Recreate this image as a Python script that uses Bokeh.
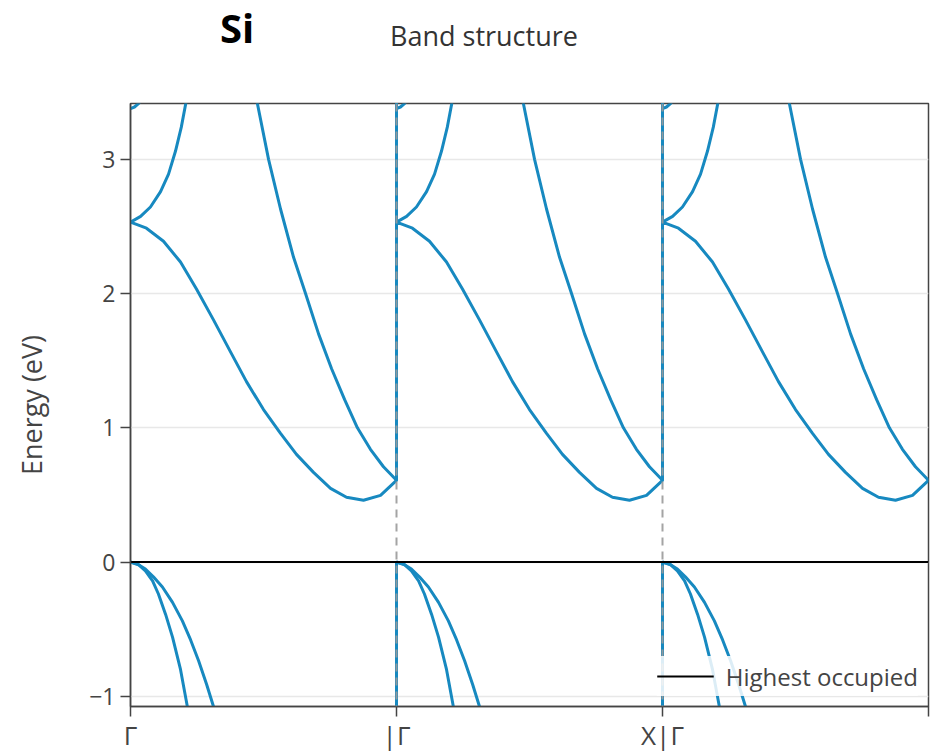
import numpy as np
from bokeh.plotting import figure
from bokeh.layouts import column
from bokeh.models import Range1d, FixedTicker, Legend, LegendItem, Span, Div
from bokeh.embed import file_html
from bokeh.resources import INLINE

# ---- data (fractional k along each Γ→X segment, energies in eV) ----
segment_starts = [0, 1, 2]
x_ticks = [0, 1, 2, 3]
x_tick_labels = ["Γ", "|Γ", "X|Γ", ""]
y_ticks = [-1, 0, 1, 2, 3]
highest_occupied = 0.0
material = "Si"
chart_title = "Band structure"

k_vb1 = [0.0, 0.030, 0.056, 0.083, 0.105, 0.132, 0.158, 0.188, 0.214, 0.244, 0.5, 1.0]
e_vb1 = [0.0, -0.020, -0.065, -0.140, -0.238, -0.390, -0.559, -0.800, -1.079, -1.38, -2.3, -2.9]

k_vb2 = [0.0, 0.026, 0.056, 0.086, 0.120, 0.158, 0.195, 0.226, 0.256, 0.286, 0.312, 0.346, 0.6, 1.0]
e_vb2 = [0.0, -0.015, -0.052, -0.110, -0.186, -0.300, -0.438, -0.580, -0.735, -0.910, -1.076, -1.28, -2.3, -2.9]

k_cb1 = [0.0, 0.06, 0.124, 0.188, 0.248, 0.312, 0.376, 0.436, 0.5, 0.564,
         0.624, 0.688, 0.752, 0.812, 0.876, 0.94, 1.0]
e_cb1 = [2.532, 2.487, 2.390, 2.235, 2.034, 1.804, 1.566, 1.344, 1.136, 0.958,
         0.802, 0.668, 0.549, 0.483, 0.460, 0.497, 0.609]

k_cb2 = [0.0, 0.3, 0.45, 0.477, 0.519, 0.564, 0.613, 0.658, 0.707, 0.756,
         0.805, 0.853, 0.902, 0.951, 1.0]
e_cb2 = [4.1, 3.9, 3.6, 3.416, 3.0, 2.63, 2.27, 2.0, 1.70, 1.44,
         1.21, 1.0, 0.84, 0.71, 0.609]

k_cb3 = [0.0, 0.038, 0.075, 0.113, 0.143, 0.169, 0.191, 0.211, 0.25, 0.6, 1.0]
e_cb3 = [2.532, 2.575, 2.645, 2.76, 2.89, 3.06, 3.24, 3.45, 3.75, 4.2, 4.0]

k_cb4 = [0.0, 0.015, 0.03, 0.06, 0.5, 1.0]
e_cb4 = [3.378, 3.39, 3.415, 3.5, 4.5, 4.2]

bands = [(k_vb1, e_vb1), (k_vb2, e_vb2), (k_cb1, e_cb1),
         (k_cb2, e_cb2), (k_cb3, e_cb3), (k_cb4, e_cb4)]

BLUE = "#1789c0"
FONT = "Open Sans"
GREY = "#444444"

HEADER_H = 60

p = figure(width=930, height=755 - HEADER_H, output_backend="svg",
           toolbar_location=None,
           x_range=Range1d(0, 3), y_range=Range1d(-1.076, 3.416),
           min_border_left=130, min_border_right=2,
           min_border_top=103 - HEADER_H, min_border_bottom=47)

for k, e in bands:
    xs = np.concatenate([np.array(k) + s for s in segment_starts])
    ys = np.concatenate([np.array(e) for s in segment_starts])
    p.line(xs, ys, line_color=BLUE, line_width=3)

for b in x_ticks[1:-1]:
    p.add_layout(Span(location=b, dimension="height", line_color="#9a9a9a",
                      line_width=2, line_dash="8 6", line_alpha=0.9))

ho = p.line([x_ticks[0], x_ticks[-1]], [highest_occupied, highest_occupied],
            line_color="black", line_width=2)

legend = Legend(items=[LegendItem(label="Highest occupied", renderers=[ho])],
                location="bottom_right", margin=10, padding=10,
                glyph_width=57, glyph_height=40, label_height=40,
                label_standoff=12,
                background_fill_color="white", background_fill_alpha=0.85,
                border_line_color=None, label_text_font=FONT,
                label_text_font_size="24px", label_text_color=GREY)
p.add_layout(legend, "center")

# axes
p.xaxis.ticker = FixedTicker(ticks=x_ticks)
p.xaxis.major_label_overrides = {t: l for t, l in zip(x_ticks, x_tick_labels)}
p.xaxis.major_label_text_font = FONT
p.xaxis.major_label_text_font_size = "26px"
p.xaxis.major_label_text_color = GREY
p.xaxis.major_label_standoff = 0
p.xaxis.major_tick_out = 10
p.xaxis.major_tick_in = 0
p.xaxis.minor_tick_line_color = None

p.yaxis.ticker = FixedTicker(ticks=y_ticks)
p.yaxis.major_label_overrides = {t: (str(t) if t >= 0 else "\u2212" + str(-t)) for t in y_ticks}
p.yaxis.major_label_text_font = FONT
p.yaxis.major_label_text_font_size = "23px"
p.yaxis.major_label_text_color = GREY
p.yaxis.major_label_standoff = 5
p.yaxis.major_tick_out = 10
p.yaxis.major_tick_in = 0
p.yaxis.minor_tick_line_color = None
p.yaxis.axis_label = "Energy (eV)"
p.yaxis.axis_label_text_font = FONT
p.yaxis.axis_label_text_font_style = "normal"
p.yaxis.axis_label_text_font_size = "27px"
p.yaxis.axis_label_text_color = GREY
p.yaxis.axis_label_standoff = 36

for ax in (p.xaxis, p.yaxis):
    ax.axis_line_color = GREY
    ax.axis_line_width = 1.5
    ax.major_tick_line_color = GREY
    ax.major_tick_line_width = 1.5

p.xgrid.grid_line_color = None
p.ygrid.grid_line_color = "#e8e8e8"
p.ygrid.grid_line_width = 1.5
p.outline_line_color = GREY
p.outline_line_width = 1.5
p.outline_line_alpha = 1.0

header_html = (
    f'<div style="position:relative;width:930px;height:{HEADER_H}px;'
    f"font-family:'Open Sans',sans-serif;\">"
    f'<span style="position:absolute;left:220px;top:8px;font-size:40px;'
    f'font-weight:bold;line-height:1;color:black;white-space:nowrap;">{material}</span>'
    f'<span style="position:absolute;left:390px;top:22px;font-size:27px;'
    f'line-height:1;color:#333333;white-space:nowrap;">{chart_title}</span>'
    f'</div>'
)
header = Div(text=header_html, width=930, height=HEADER_H, margin=0)

layout = column(header, p, spacing=0)

open("out.html", "w").write(file_html(layout, INLINE))
